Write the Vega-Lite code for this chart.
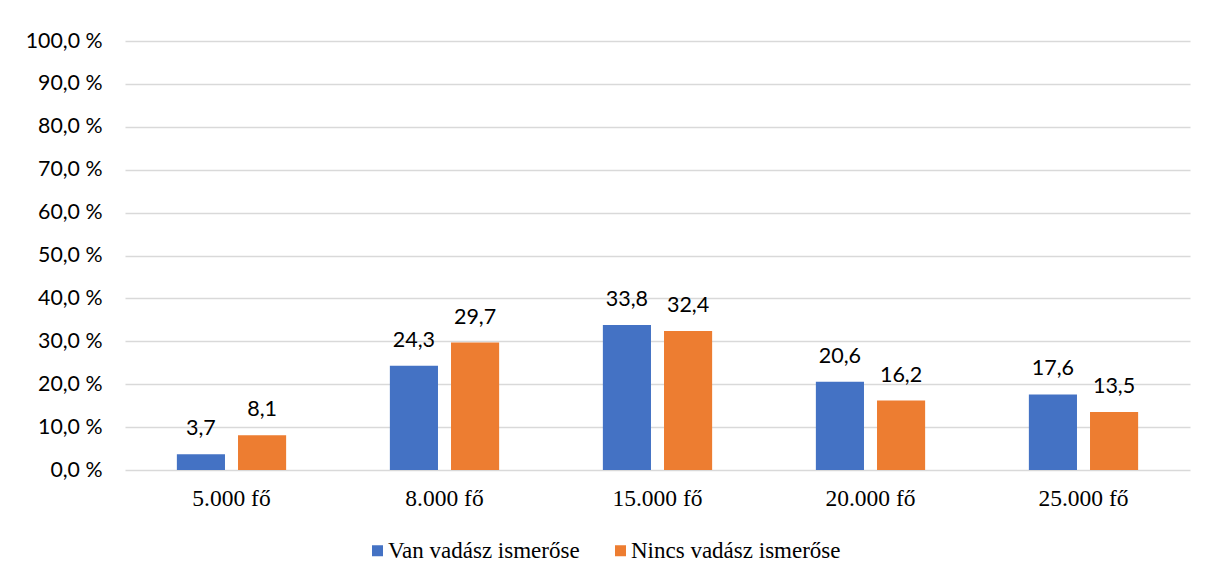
{
  "$schema": "https://vega.github.io/schema/vega-lite/v6.json",
  "width": 1065,
  "height": 429,
  "autosize": {"type": "none"},
  "padding": {"left": 125, "top": 41, "right": 23, "bottom": 106},
  "background": "white",
  "config": {
    "view": {"stroke": null},
    "locale": {"number": {"decimal": ",", "thousands": ".", "grouping": [3], "currency": ["", " Ft"]}}
  },
  "data": {
    "values": [
      {"kat": "5.000 fő", "sor": "Van vadász ismerőse", "ertek": 3.7},
      {"kat": "5.000 fő", "sor": "Nincs vadász ismerőse", "ertek": 8.1},
      {"kat": "8.000 fő", "sor": "Van vadász ismerőse", "ertek": 24.3},
      {"kat": "8.000 fő", "sor": "Nincs vadász ismerőse", "ertek": 29.7},
      {"kat": "15.000 fő", "sor": "Van vadász ismerőse", "ertek": 33.8},
      {"kat": "15.000 fő", "sor": "Nincs vadász ismerőse", "ertek": 32.4},
      {"kat": "20.000 fő", "sor": "Van vadász ismerőse", "ertek": 20.6},
      {"kat": "20.000 fő", "sor": "Nincs vadász ismerőse", "ertek": 16.2},
      {"kat": "25.000 fő", "sor": "Van vadász ismerőse", "ertek": 17.6},
      {"kat": "25.000 fő", "sor": "Nincs vadász ismerőse", "ertek": 13.5}
    ]
  },
  "encoding": {
    "x": {
      "field": "kat", "type": "nominal", "sort": null,
      "scale": {"paddingInner": 0.487, "paddingOuter": 0.2435},
      "axis": {"title": null, "labelAngle": 0, "labelFont": "Liberation Serif", "labelFontSize": 23.5, "labelColor": "#000000", "domain": false, "ticks": false, "labelPadding": 16}
    },
    "xOffset": {
      "field": "sor", "type": "nominal", "sort": ["Van vadász ismerőse", "Nincs vadász ismerőse"],
      "scale": {"paddingInner": 0.213, "paddingOuter": 0}
    },
    "y": {
      "field": "ertek", "type": "quantitative",
      "scale": {"domain": [0, 100], "nice": false},
      "axis": {"title": null, "values": [0, 10, 20, 30, 40, 50, 60, 70, 80, 90, 100], "format": ".1f", "labelExpr": "datum.label + ' %'", "labelFont": "Lato", "labelFontSize": 21.3, "labelColor": "#000000", "labelPadding": 23, "domain": false, "ticks": false, "grid": true, "gridColor": "#d9d9d9", "gridWidth": 1.3}
    }
  },
  "layer": [
    {
      "mark": {"type": "bar"},
      "encoding": {
        "color": {
          "field": "sor", "type": "nominal",
          "scale": {"domain": ["Van vadász ismerőse", "Nincs vadász ismerőse"], "range": ["#4472C4", "#ED7D31"]},
          "legend": {"title": null, "orient": "none", "direction": "horizontal", "legendX": 241, "legendY": 498, "padding": 0, "symbolType": "square", "symbolSize": 121, "symbolStrokeWidth": 0, "labelFont": "Liberation Serif", "labelFontSize": 23, "labelColor": "#000000", "labelOffset": -1, "columnPadding": 29, "labelLimit": 400}
        }
      }
    },
    {
      "mark": {"type": "text", "dy": -19, "baseline": "alphabetic", "font": "Lato", "fontSize": 21.5, "color": "#000000"},
      "encoding": {"text": {"field": "ertek", "type": "quantitative", "format": ".1f"}}
    }
  ]
}
